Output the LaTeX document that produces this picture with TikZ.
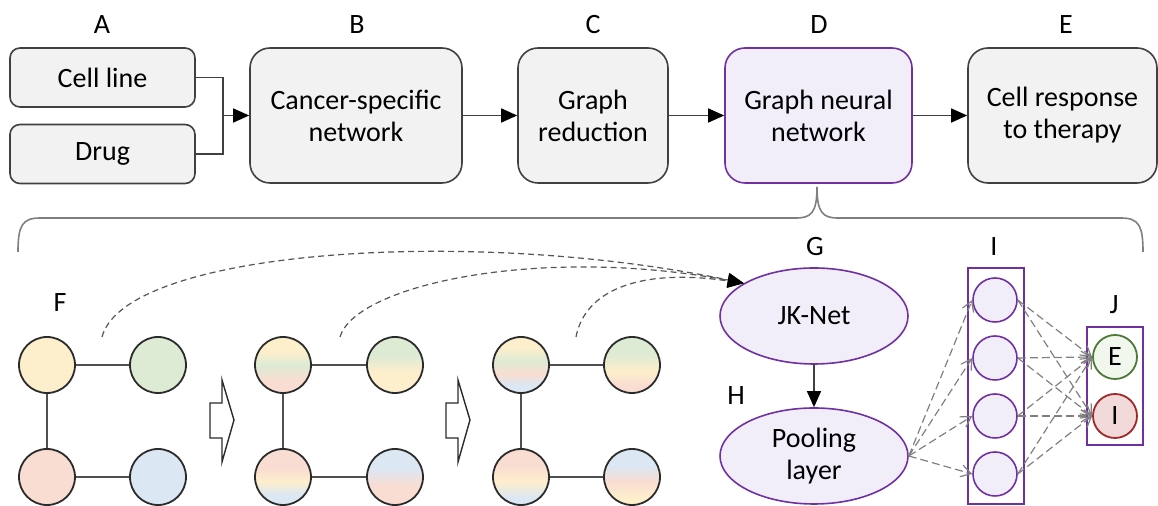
\documentclass[tikz,border=0pt]{standalone}
\usepackage{fontspec}
\setmainfont{Carlito}
\usetikzlibrary{arrows.meta,shapes.geometric}
\definecolor{boxfill}{HTML}{F2F2F2}
\definecolor{boxdraw}{HTML}{404040}
\definecolor{purp}{HTML}{7030A0}
\definecolor{lav}{HTML}{F2EEF9}
\definecolor{bracecol}{HTML}{7F7F7F}
\definecolor{gdraw}{HTML}{2B2B2B}
\definecolor{edgecol}{HTML}{505050}
\definecolor{dashcol}{HTML}{555555}
\definecolor{garrcol}{HTML}{808080}
\definecolor{cy}{HTML}{FDEECC}
\definecolor{cg}{HTML}{DDEBD4}
\definecolor{cp}{HTML}{F9DDD2}
\definecolor{cb}{HTML}{DBE7F3}
\definecolor{egreen}{HTML}{4A7A34}
\definecolor{efill}{HTML}{F2F7EE}
\definecolor{ired}{HTML}{A02828}
\definecolor{ifill}{HTML}{F3DADA}
\pgfdeclareverticalshading{twoTL}{100bp}{color(0bp)=(cp); color(25bp)=(cp); color(36bp)=(cp); color(50bp)=(cg); color(62bp)=(cy); color(100bp)=(cy)}
\pgfdeclareverticalshading{twoTR}{100bp}{color(0bp)=(cy); color(25bp)=(cy); color(44bp)=(cy); color(58bp)=(cg); color(100bp)=(cg)}
\pgfdeclareverticalshading{twoBL}{100bp}{color(0bp)=(cb); color(25bp)=(cb); color(34bp)=(cb); color(46bp)=(cy); color(58bp)=(cp); color(100bp)=(cp)}
\pgfdeclareverticalshading{twoBR}{100bp}{color(0bp)=(cp); color(25bp)=(cp); color(42bp)=(cp); color(58bp)=(cb); color(100bp)=(cb)}
\pgfdeclareverticalshading{threeTL}{100bp}{color(0bp)=(cb); color(25bp)=(cb); color(32bp)=(cb); color(42bp)=(cp); color(54bp)=(cg); color(65bp)=(cy); color(100bp)=(cy)}
\pgfdeclareverticalshading{threeTR}{100bp}{color(0bp)=(cp); color(25bp)=(cp); color(32bp)=(cp); color(44bp)=(cy); color(60bp)=(cg); color(100bp)=(cg)}
\pgfdeclareverticalshading{threeBL}{100bp}{color(0bp)=(cb); color(25bp)=(cb); color(32bp)=(cb); color(46bp)=(cy); color(60bp)=(cp); color(100bp)=(cp)}
\pgfdeclareverticalshading{threeBR}{100bp}{color(0bp)=(cy); color(25bp)=(cy); color(32bp)=(cy); color(46bp)=(cp); color(60bp)=(cb); color(100bp)=(cb)}
\begin{document}
\begin{tikzpicture}[x=0.5pt,y=-0.5pt,font=\fontsize{14}{16}\selectfont,
  box/.style={draw=boxdraw,fill=boxfill,line width=0.8pt,rounded corners=10pt,align=center,inner sep=0pt,minimum height=67.5pt},
  smallbox/.style={draw=boxdraw,fill=boxfill,line width=0.8pt,rounded corners=5pt,inner sep=0pt,minimum width=92.5pt,minimum height=29.5pt},
  flow/.style={draw=boxdraw,line width=0.7pt},
  tip/.style={-{Triangle[length=8pt,width=7pt,color=black]}},
  gnode/.style={circle,draw=gdraw,line width=0.9pt,minimum size=28pt,inner sep=0pt},
  gedge/.style={draw=edgecol,line width=0.7pt},
  blockarr/.style={draw=gdraw,line width=0.7pt,fill=white},
  skip/.style={draw=dashcol,line width=0.6pt,dash pattern=on 3pt off 2pt,-{Triangle[length=8pt,width=7pt,color=black]}},
  ell/.style={ellipse,draw=purp,fill=lav,line width=0.8pt,minimum width=94pt,minimum height=48pt,inner sep=0pt,align=center},
  hid/.style={circle,draw=purp,fill=lav,line width=0.8pt,minimum size=22pt,inner sep=0pt},
  garrow/.style={draw=garrcol,line width=0.6pt,dash pattern=on 4pt off 2pt,-{Straight Barb[length=5pt,width=6pt]}},
  lbl/.style={inner sep=0pt}]
\useasboundingbox (0,0) rectangle (1158,506);
% top row labels
\node[lbl] (lA) at (102,25) {A};
\node[lbl] (lB) at (357,25) {B};
\node[lbl] (lC) at (593,25) {C};
\node[lbl] (lD) at (819,25) {D};
\node[lbl] (lE) at (1066,25) {E};
% top row boxes
\node[smallbox] (cell) at (102.5,77.5) {Cell line};
\node[smallbox] (drug) at (102.5,154) {Drug};
\node[box,minimum width=106pt] (B) at (356,115.5) {Cancer-specific\\network};
\node[box,minimum width=75pt] (C) at (593,115.5) {Graph\\reduction};
\node[box,minimum width=93.5pt,draw=purp,fill=lav] (D) at (818.5,115.5) {Graph neural\\network};
\node[box,minimum width=94.5pt] (E) at (1062.5,115.5) {Cell response\\to therapy};
\coordinate (m) at (223,115.5);
\draw[flow] (cell.east) -| (m);
\draw[flow] (drug.east) -| (m);
\draw[flow,tip] (m) -- (B.west);
\draw[flow,tip] (B) -- (C);
\draw[flow,tip] (C) -- (D);
\draw[flow,tip] (D) -- (E);
% brace
\coordinate (btip) at (817,187);
\draw[bracecol,line width=0.8pt] (18,252) .. controls (18,226) and (22,218) .. (40,218) -- (796,218)
  .. controls (811,218) and (817,213) .. (btip) .. controls (817,213) and (823,218) .. (838,218)
  -- (1121,218) .. controls (1139,218) and (1143,226) .. (1143,252);
% graph 1
\node[lbl] (lF) at (60,303) {F};
\node[gnode,fill=cy] (a1) at (47,365) {};
\node[gnode,fill=cg] (b1) at (158,365) {};
\node[gnode,fill=cp] (c1) at (47,477) {};
\node[gnode,fill=cb] (d1) at (158,477) {};
\draw[gedge] (a1) -- (b1);
\draw[gedge] (a1) -- (c1);
\draw[gedge] (c1) -- (d1);
% graph 2
\node[gnode,shading=twoTL] (a2) at (283,365) {};
\node[gnode,shading=twoTR] (b2) at (395,365) {};
\node[gnode,shading=twoBL] (c2) at (283,477) {};
\node[gnode,shading=twoBR] (d2) at (395,477) {};
\draw[gedge] (a2) -- (b2);
\draw[gedge] (a2) -- (c2);
\draw[gedge] (c2) -- (d2);
% graph 3
\node[gnode,shading=threeTL] (a3) at (521,365) {};
\node[gnode,shading=threeTR] (b3) at (632,365) {};
\node[gnode,shading=threeBL] (c3) at (521,477) {};
\node[gnode,shading=threeBR] (d3) at (632,477) {};
\draw[gedge] (a3) -- (b3);
\draw[gedge] (a3) -- (c3);
\draw[gedge] (c3) -- (d3);
% block arrows
\draw[blockarr] (210,403) -- (222,403) -- (222,380) -- (234,420) -- (222,462) -- (222,438) -- (210,438) -- cycle;
\draw[blockarr] (446,403) -- (458,403) -- (458,380) -- (470,420) -- (458,462) -- (458,438) -- (446,438) -- cycle;
% JK-Net and pooling
\node[lbl] (lG) at (815,247) {G};
\node[lbl] (lH) at (736,396) {H};
\node[ell] (jk) at (814,316) {JK-Net};
\node[ell] (pool) at (814,456) {Pooling\\layer};
\draw[flow,tip] (jk) -- (pool);
% skip connections
\coordinate (s1) at (102,337);
\coordinate (s2) at (340,337);
\coordinate (s3) at (576,337);
\draw[skip] (s1) .. controls (125,250) and (470,226) .. (jk.155);
\draw[skip] (s2) .. controls (355,285) and (540,245) .. (jk.155);
\draw[skip] (s3) .. controls (585,290) and (640,268) .. (jk.155);
% hidden layer
\node[lbl] (lI) at (994,247) {I};
\node[draw=purp,line width=0.9pt,minimum width=28pt,minimum height=118pt,inner sep=0pt] (Ibox) at (996,386) {};
\node[hid] (h1) at (995,300) {};
\node[hid] (h2) at (995,358) {};
\node[hid] (h3) at (995,416) {};
\node[hid] (h4) at (995,474) {};
% output layer
\node[lbl] (lJ) at (1114,305) {J};
\node[draw=purp,line width=0.9pt,minimum width=28pt,minimum height=59pt,inner sep=0pt] (Jbox) at (1115,386) {};
\node[circle,draw=egreen,fill=efill,line width=0.9pt,minimum size=22pt,inner sep=0pt] (oE) at (1115,357) {E};
\node[circle,draw=ired,fill=ifill,line width=0.9pt,minimum size=22pt,inner sep=0pt] (oI) at (1115,416) {I};
\foreach \i in {1,...,4} {
  \draw[garrow] (pool.east) -- (h\i.west);
  \draw[garrow] (h\i.east) -- (oE.west);
  \draw[garrow] (h\i.east) -- (oI.west);
}
\end{tikzpicture}
\end{document}
